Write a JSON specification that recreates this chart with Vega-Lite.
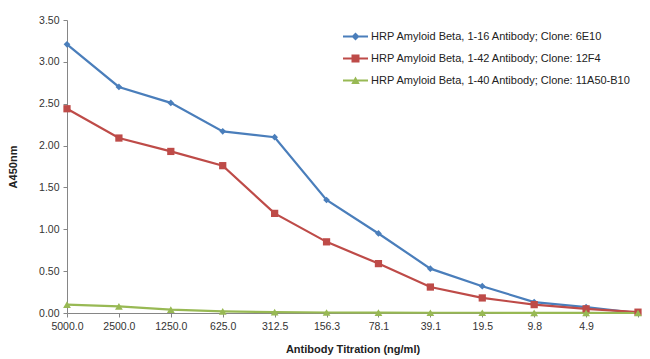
{
  "$schema": "https://vega.github.io/schema/vega-lite/v6.json",
  "width": 571,
  "height": 293,
  "autosize": "none",
  "padding": {"left": 67, "top": 20, "right": 12, "bottom": 46},
  "background": "white",
  "config": {
    "view": {"stroke": null},
    "font": "Liberation Sans",
    "axis": {"grid": false, "domainColor": "#868686", "tickColor": "#868686", "labelColor": "#333333", "labelFont": "Liberation Sans", "labelFontSize": 10.5, "titleFont": "Liberation Sans", "titleFontWeight": "bold", "titleFontSize": 11, "titleColor": "#222222"}
  },
  "data": {
    "values": [
      {"i": 0, "conc": "5000.0", "series": "HRP Amyloid Beta, 1-16 Antibody; Clone: 6E10", "a": 3.21},
      {"i": 1, "conc": "2500.0", "series": "HRP Amyloid Beta, 1-16 Antibody; Clone: 6E10", "a": 2.70},
      {"i": 2, "conc": "1250.0", "series": "HRP Amyloid Beta, 1-16 Antibody; Clone: 6E10", "a": 2.51},
      {"i": 3, "conc": "625.0", "series": "HRP Amyloid Beta, 1-16 Antibody; Clone: 6E10", "a": 2.17},
      {"i": 4, "conc": "312.5", "series": "HRP Amyloid Beta, 1-16 Antibody; Clone: 6E10", "a": 2.10},
      {"i": 5, "conc": "156.3", "series": "HRP Amyloid Beta, 1-16 Antibody; Clone: 6E10", "a": 1.35},
      {"i": 6, "conc": "78.1", "series": "HRP Amyloid Beta, 1-16 Antibody; Clone: 6E10", "a": 0.95},
      {"i": 7, "conc": "39.1", "series": "HRP Amyloid Beta, 1-16 Antibody; Clone: 6E10", "a": 0.53},
      {"i": 8, "conc": "19.5", "series": "HRP Amyloid Beta, 1-16 Antibody; Clone: 6E10", "a": 0.32},
      {"i": 9, "conc": "9.8", "series": "HRP Amyloid Beta, 1-16 Antibody; Clone: 6E10", "a": 0.13},
      {"i": 10, "conc": "4.9", "series": "HRP Amyloid Beta, 1-16 Antibody; Clone: 6E10", "a": 0.07},
      {"i": 11, "conc": "0.0", "series": "HRP Amyloid Beta, 1-16 Antibody; Clone: 6E10", "a": 0.00},
      {"i": 0, "conc": "5000.0", "series": "HRP Amyloid Beta, 1-42 Antibody; Clone: 12F4", "a": 2.44},
      {"i": 1, "conc": "2500.0", "series": "HRP Amyloid Beta, 1-42 Antibody; Clone: 12F4", "a": 2.09},
      {"i": 2, "conc": "1250.0", "series": "HRP Amyloid Beta, 1-42 Antibody; Clone: 12F4", "a": 1.93},
      {"i": 3, "conc": "625.0", "series": "HRP Amyloid Beta, 1-42 Antibody; Clone: 12F4", "a": 1.76},
      {"i": 4, "conc": "312.5", "series": "HRP Amyloid Beta, 1-42 Antibody; Clone: 12F4", "a": 1.19},
      {"i": 5, "conc": "156.3", "series": "HRP Amyloid Beta, 1-42 Antibody; Clone: 12F4", "a": 0.85},
      {"i": 6, "conc": "78.1", "series": "HRP Amyloid Beta, 1-42 Antibody; Clone: 12F4", "a": 0.59},
      {"i": 7, "conc": "39.1", "series": "HRP Amyloid Beta, 1-42 Antibody; Clone: 12F4", "a": 0.31},
      {"i": 8, "conc": "19.5", "series": "HRP Amyloid Beta, 1-42 Antibody; Clone: 12F4", "a": 0.18},
      {"i": 9, "conc": "9.8", "series": "HRP Amyloid Beta, 1-42 Antibody; Clone: 12F4", "a": 0.10},
      {"i": 10, "conc": "4.9", "series": "HRP Amyloid Beta, 1-42 Antibody; Clone: 12F4", "a": 0.05},
      {"i": 11, "conc": "0.0", "series": "HRP Amyloid Beta, 1-42 Antibody; Clone: 12F4", "a": 0.01},
      {"i": 0, "conc": "5000.0", "series": "HRP Amyloid Beta, 1-40 Antibody; Clone: 11A50-B10", "a": 0.10},
      {"i": 1, "conc": "2500.0", "series": "HRP Amyloid Beta, 1-40 Antibody; Clone: 11A50-B10", "a": 0.08},
      {"i": 2, "conc": "1250.0", "series": "HRP Amyloid Beta, 1-40 Antibody; Clone: 11A50-B10", "a": 0.04},
      {"i": 3, "conc": "625.0", "series": "HRP Amyloid Beta, 1-40 Antibody; Clone: 11A50-B10", "a": 0.02},
      {"i": 4, "conc": "312.5", "series": "HRP Amyloid Beta, 1-40 Antibody; Clone: 11A50-B10", "a": 0.01},
      {"i": 5, "conc": "156.3", "series": "HRP Amyloid Beta, 1-40 Antibody; Clone: 11A50-B10", "a": 0.006},
      {"i": 6, "conc": "78.1", "series": "HRP Amyloid Beta, 1-40 Antibody; Clone: 11A50-B10", "a": 0.004},
      {"i": 7, "conc": "39.1", "series": "HRP Amyloid Beta, 1-40 Antibody; Clone: 11A50-B10", "a": 0.003},
      {"i": 8, "conc": "19.5", "series": "HRP Amyloid Beta, 1-40 Antibody; Clone: 11A50-B10", "a": 0.003},
      {"i": 9, "conc": "9.8", "series": "HRP Amyloid Beta, 1-40 Antibody; Clone: 11A50-B10", "a": 0.002},
      {"i": 10, "conc": "4.9", "series": "HRP Amyloid Beta, 1-40 Antibody; Clone: 11A50-B10", "a": 0.002},
      {"i": 11, "conc": "0.0", "series": "HRP Amyloid Beta, 1-40 Antibody; Clone: 11A50-B10", "a": 0.00}
    ]
  },
  "encoding": {
    "x": {
      "field": "conc", "type": "ordinal", "sort": {"field": "i"},
      "scale": {"type": "point", "padding": 0},
      "axis": {"title": "Antibody Titration (ng/ml)", "labelAngle": 0, "labelPadding": 4, "titlePadding": 12, "tickSize": 4, "labelExpr": "datum.value == '0.0' ? '' : datum.value"}
    },
    "y": {
      "field": "a", "type": "quantitative",
      "scale": {"domain": [0, 3.5], "nice": false},
      "axis": {"title": "A450nm", "values": [0, 0.5, 1, 1.5, 2, 2.5, 3, 3.5], "format": ".2f", "tickSize": 4, "labelPadding": 4, "titlePadding": 20}
    },
    "color": {
      "field": "series", "type": "nominal",
      "sort": ["HRP Amyloid Beta, 1-16 Antibody; Clone: 6E10", "HRP Amyloid Beta, 1-42 Antibody; Clone: 12F4", "HRP Amyloid Beta, 1-40 Antibody; Clone: 11A50-B10"],
      "scale": {"range": ["#4a7ebb", "#be4b48", "#98b954"]},
      "legend": {
        "title": null, "orient": "none", "legendX": 276, "legendY": 4,
        "labelFont": "Liberation Sans", "labelFontSize": 11, "labelColor": "#222222",
        "rowPadding": 4, "symbolSize": 625, "labelLimit": 400, "labelOffset": 3,
        "symbolStrokeWidth": 0,
        "encode": {"symbols": {"update": {
          "shape": {"signal": "datum.index == 0 ? 'M-1,-0.08H1V0.08H-1Z M0,-0.32L0.32,0L0,0.32L-0.32,0Z' : datum.index == 1 ? 'M-1,-0.08H1V0.08H-1Z M-0.32,-0.32H0.32V0.32H-0.32Z' : 'M-1,-0.08H1V0.08H-1Z M0,-0.32L0.34,0.28H-0.34Z'"},
          "fill": {"scale": "color", "field": "value"},
          "size": {"value": 625},
          "strokeWidth": {"value": 0}
        }}}
      }
    }
  },
  "layer": [
    {"mark": {"type": "line", "strokeWidth": 2.2}},
    {
      "mark": {"type": "point", "filled": true, "opacity": 1},
      "encoding": {
        "shape": {
          "field": "series", "type": "nominal",
          "sort": ["HRP Amyloid Beta, 1-16 Antibody; Clone: 6E10", "HRP Amyloid Beta, 1-42 Antibody; Clone: 12F4", "HRP Amyloid Beta, 1-40 Antibody; Clone: 11A50-B10"],
          "scale": {"range": ["diamond", "square", "triangle-up"]},
          "legend": null
        },
        "size": {
          "field": "series", "type": "nominal",
          "sort": ["HRP Amyloid Beta, 1-16 Antibody; Clone: 6E10", "HRP Amyloid Beta, 1-42 Antibody; Clone: 12F4", "HRP Amyloid Beta, 1-40 Antibody; Clone: 11A50-B10"],
          "scale": {"range": [45, 60, 45]},
          "legend": null
        }
      }
    }
  ]
}
